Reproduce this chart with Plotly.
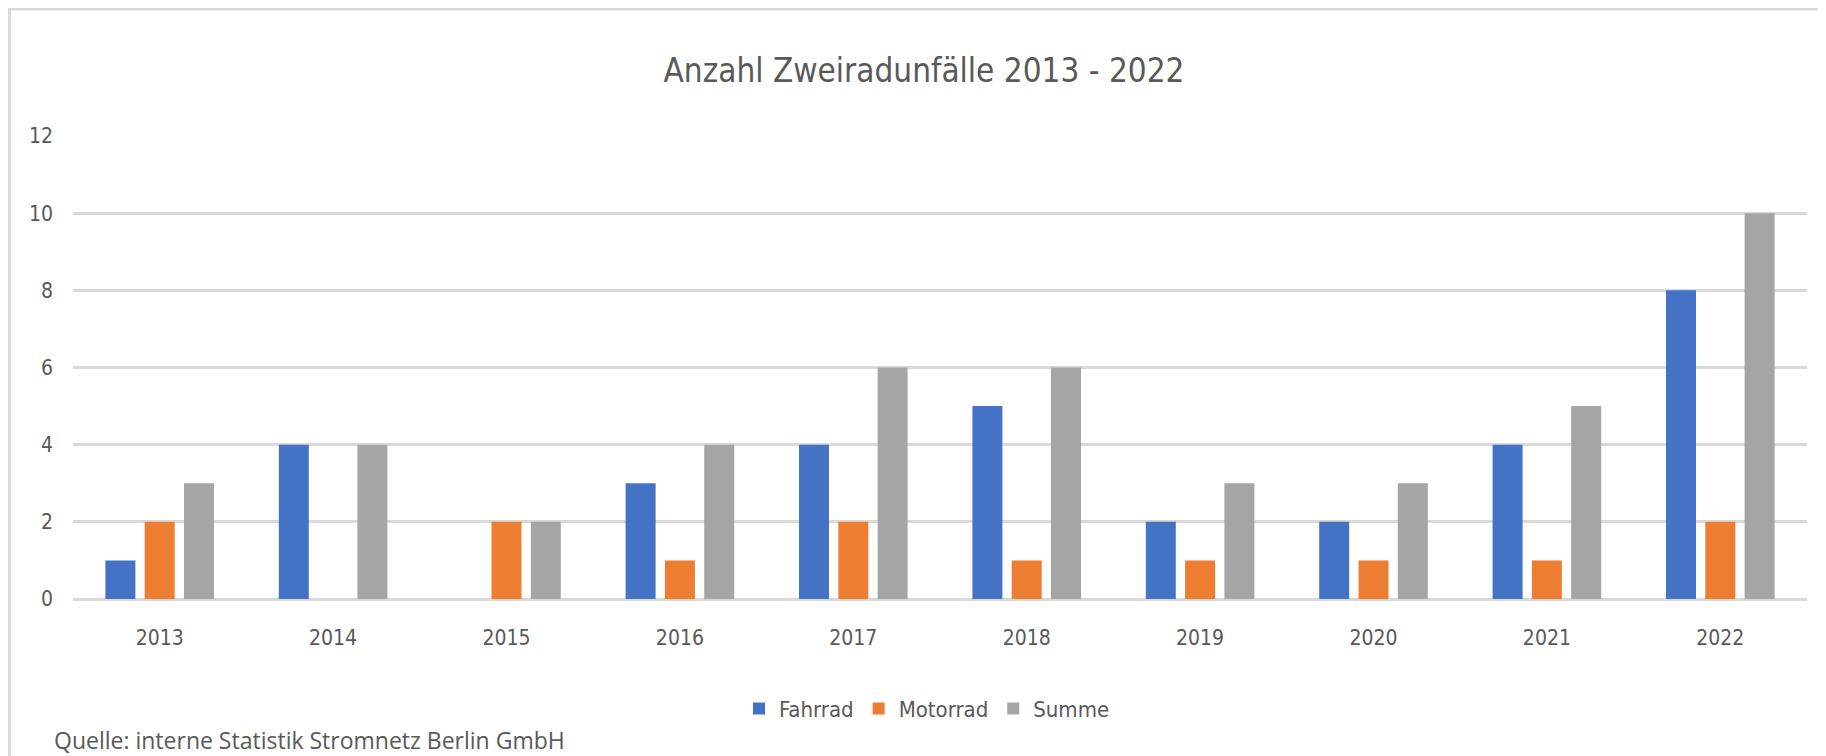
import plotly.graph_objects as go

years = ["2013", "2014", "2015", "2016", "2017", "2018", "2019", "2020", "2021", "2022"]
fahrrad = [1, 4, 0, 3, 4, 5, 2, 2, 4, 8]
motorrad = [2, 0, 2, 1, 2, 1, 1, 1, 1, 2]
summe = [3, 4, 2, 4, 6, 6, 3, 3, 5, 10]
y_ticks = [0, 2, 4, 6, 8, 10, 12]

FONT = "DejaVu Sans Condensed, sans-serif"
TXT = "#595959"

# page body has an 8px margin; offset the figure layout accordingly
OFF = 8
W, H = 1826 - OFF, 756 - OFF
ML, MT = 73 - OFF, 136 - OFF
MR = W - (1807 - OFF)
MB = H - (599.3 - OFF)

fig = go.Figure()
for name, vals, col in [("Fahrrad", fahrrad, "#4472C4"),
                        ("Motorrad", motorrad, "#ED7D31"),
                        ("Summe", summe, "#A5A5A5")]:
    fig.add_trace(go.Bar(x=years, y=vals, name=name,
                         marker=dict(color=col, line=dict(width=0))))

pw = W - ML - MR
ph = H - MT - MB
y0px = MT + ph  # pixel y of value 0 in figure coords

fig.update_layout(
    width=W, height=H,
    margin=dict(l=ML, r=MR, t=MT, b=MB, pad=0),
    paper_bgcolor="white", plot_bgcolor="white",
    barmode="group", bargap=0.32, bargroupgap=0.237,
    font=dict(family=FONT, color=TXT, size=22),
    title=dict(text="Anzahl Zweiradunfälle 2013 - 2022", x=(924 - OFF) / W, xref="container",
               xanchor="center", y=1 - (70 - OFF) / H, yref="container", yanchor="middle",
               font=dict(family=FONT, size=33, color=TXT)),
    xaxis=dict(showgrid=False, showline=False, ticks="", ticklabelstandoff=24,
               automargin=False, tickfont=dict(size=21, color=TXT)),
    yaxis=dict(range=[0, 12], tickvals=y_ticks, showgrid=True, gridcolor="#D9D9D9",
               gridwidth=2.5, zeroline=True, zerolinecolor="#D9D9D9", zerolinewidth=2.5,
               showline=False, ticks="", ticklabelstandoff=19, automargin=False,
               tickfont=dict(size=21, color=TXT)),
    legend=dict(orientation="h", x=(927 - 73) / pw, xanchor="center",
                y=(y0px - (709 - OFF)) / ph, yanchor="middle", font=dict(size=22, color=TXT),
                tracegroupgap=0),
    showlegend=True,
)

fig.add_annotation(text="Quelle: interne Statistik Stromnetz Berlin GmbH",
                   xref="paper", yref="paper", x=(52 - 73) / pw, y=(y0px - (740 - OFF)) / ph,
                   xanchor="left", yanchor="middle", showarrow=False,
                   font=dict(family="Open Sans, sans-serif", size=23, color=TXT))

# outer frame (top and left edges only)
fx = 1.5
fy = 1.0
fig.add_shape(type="line", xref="paper", yref="paper",
              x0=(fx - ML) / pw, x1=(W + 20 - ML) / pw, y0=1 + (MT - fy) / ph, y1=1 + (MT - fy) / ph,
              line=dict(color="#D9D9D9", width=3))
fig.add_shape(type="line", xref="paper", yref="paper",
              x0=(fx - ML) / pw, x1=(fx - ML) / pw, y0=1 + MT / ph, y1=-(MB + 20) / ph,
              line=dict(color="#D9D9D9", width=3))

fig.write_html("out.html")
